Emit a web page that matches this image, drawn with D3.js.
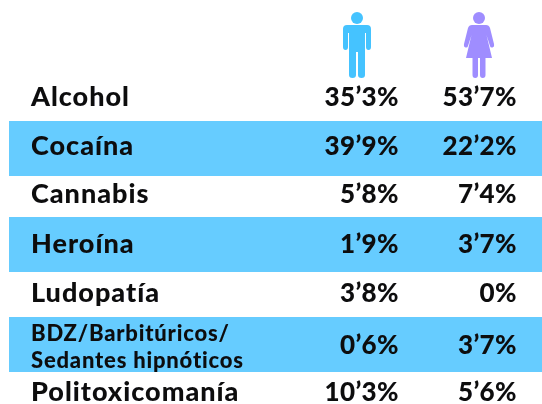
<!DOCTYPE html>
<html lang="es">
<head>
<meta charset="utf-8">
<title>Adicciones por sexo</title>
<script src="https://cdn.jsdelivr.net/npm/d3@7"></script>
<style>
    html, body { margin: 0; padding: 0; background: #fff; }
    svg { display: block; }
    text { font-family: Lato, "Open Sans", sans-serif; font-weight: 900; fill: #0a0a0f; }
</style>
</head>
<body>
<svg id="chart" width="542" height="404"></svg>
<script>
const categories = ["Alcohol", "Cocaína", "Cannabis", "Heroína", "Ludopatía", "BDZ/Barbitúricos/\nSedantes hipnóticos", "Politoxicomanía"];
const menValues = [35.3, 39.9, 5.8, 1.9, 3.8, 0.6, 10.3];
const womenValues = [53.7, 22.2, 7.4, 3.7, 0, 3.7, 5.6];
const shadedRows = [categories[1], categories[3], categories[5]];

const width = 542;
const svg = d3.select("#chart");

// rows are not evenly spaced in the picture
const textY = d3.scaleOrdinal().domain(categories).range([97, 146, 194, 244, 293, 345, 392]);
const bandY = d3.scaleOrdinal().domain(shadedRows).range([121, 217, 317]);

// decimal comma is written as an apostrophe
const pct = v => String(v).replace(".", "’") + "%";

const defs = svg.append("defs");
const blur = defs.append("filter").attr("id", "soft")
    .attr("filterUnits", "userSpaceOnUse")
    .attr("x", 0).attr("y", 0).attr("width", 542).attr("height", 404);
blur.append("feGaussianBlur").attr("stdDeviation", 0.4);

svg.append("g")
    .selectAll("rect")
    .data(shadedRows)
    .join("rect")
    .attr("x", 9)
    .attr("y", d => bandY(d))
    .attr("width", width - 9)
    .attr("height", 55)
    .attr("fill", "#66ccff");

const labels = svg.append("g").attr("filter", "url(#soft)");

function valueText(x, y, str) {
    labels.append("text")
        .attr("x", x)
        .attr("y", y)
        .attr("dy", "0.35em")
        .attr("text-anchor", "end")
        .attr("font-size", 26)
        .attr("letter-spacing", 0.4)
        .text(str);
}

categories.forEach((cat, i) => {
    const lines = cat.split("\n");
    const y = textY(cat);
    lines.forEach((line, j) => {
        labels.append("text")
            .attr("x", 31)
            .attr("y", lines.length > 1 ? y + (j === 0 ? -12 : 15) : y)
            .attr("dy", "0.35em")
            .attr("font-size", lines.length > 1 ? 22 : 27)
            .attr("letter-spacing", lines.length > 1 ? 0.8 : 1)
            .text(line);
    });
    valueText(399, y, pct(menValues[i]));
    valueText(517, y, pct(womenValues[i]));
});

// figures above the two value columns, filter sits on the outer group
const icons = svg.append("g").attr("filter", "url(#soft)");

const man = icons.append("g").attr("transform", "translate(357,0)").attr("fill", "#45c3ff");
man.append("circle").attr("cy", 18).attr("r", 6);
man.append("path").attr("d", "M-10,25 Q-14,25 -14,29 L-14,47 Q-14,50 -11.5,50 Q-9,50 -9,47 L-9,33 L-8,33 L-8,75 Q-8,78 -4.5,78 Q-1,78 -1,75 L-1,52 L1,52 L1,75 Q1,78 4.5,78 Q8,78 8,75 L8,33 L9,33 L9,47 Q9,50 11.5,50 Q14,50 14,47 L14,29 Q14,25 10,25 Z");

const woman = icons.append("g").attr("transform", "translate(479,0)").attr("fill", "#9f8dff");
woman.append("circle").attr("cy", 18).attr("r", 6);
woman.append("path").attr("d", "M-7,25 Q-10,25 -11,28 L-15,44 Q-15.5,47 -13.5,47.5 Q-11.5,48 -11,46 L-7.5,35 L-8,37 L-13,58 L-6.5,58 L-6.5,75 Q-6.5,78 -3.75,78 Q-1,78 -1,75 L-1,58 L1,58 L1,75 Q1,78 3.75,78 Q6.5,78 6.5,75 L6.5,58 L13,58 L8,37 L7.5,35 L11,46 Q11.5,48 13.5,47.5 Q15.5,47 15,44 L11,28 Q10,25 7,25 Z");
</script>
</body>
</html>
